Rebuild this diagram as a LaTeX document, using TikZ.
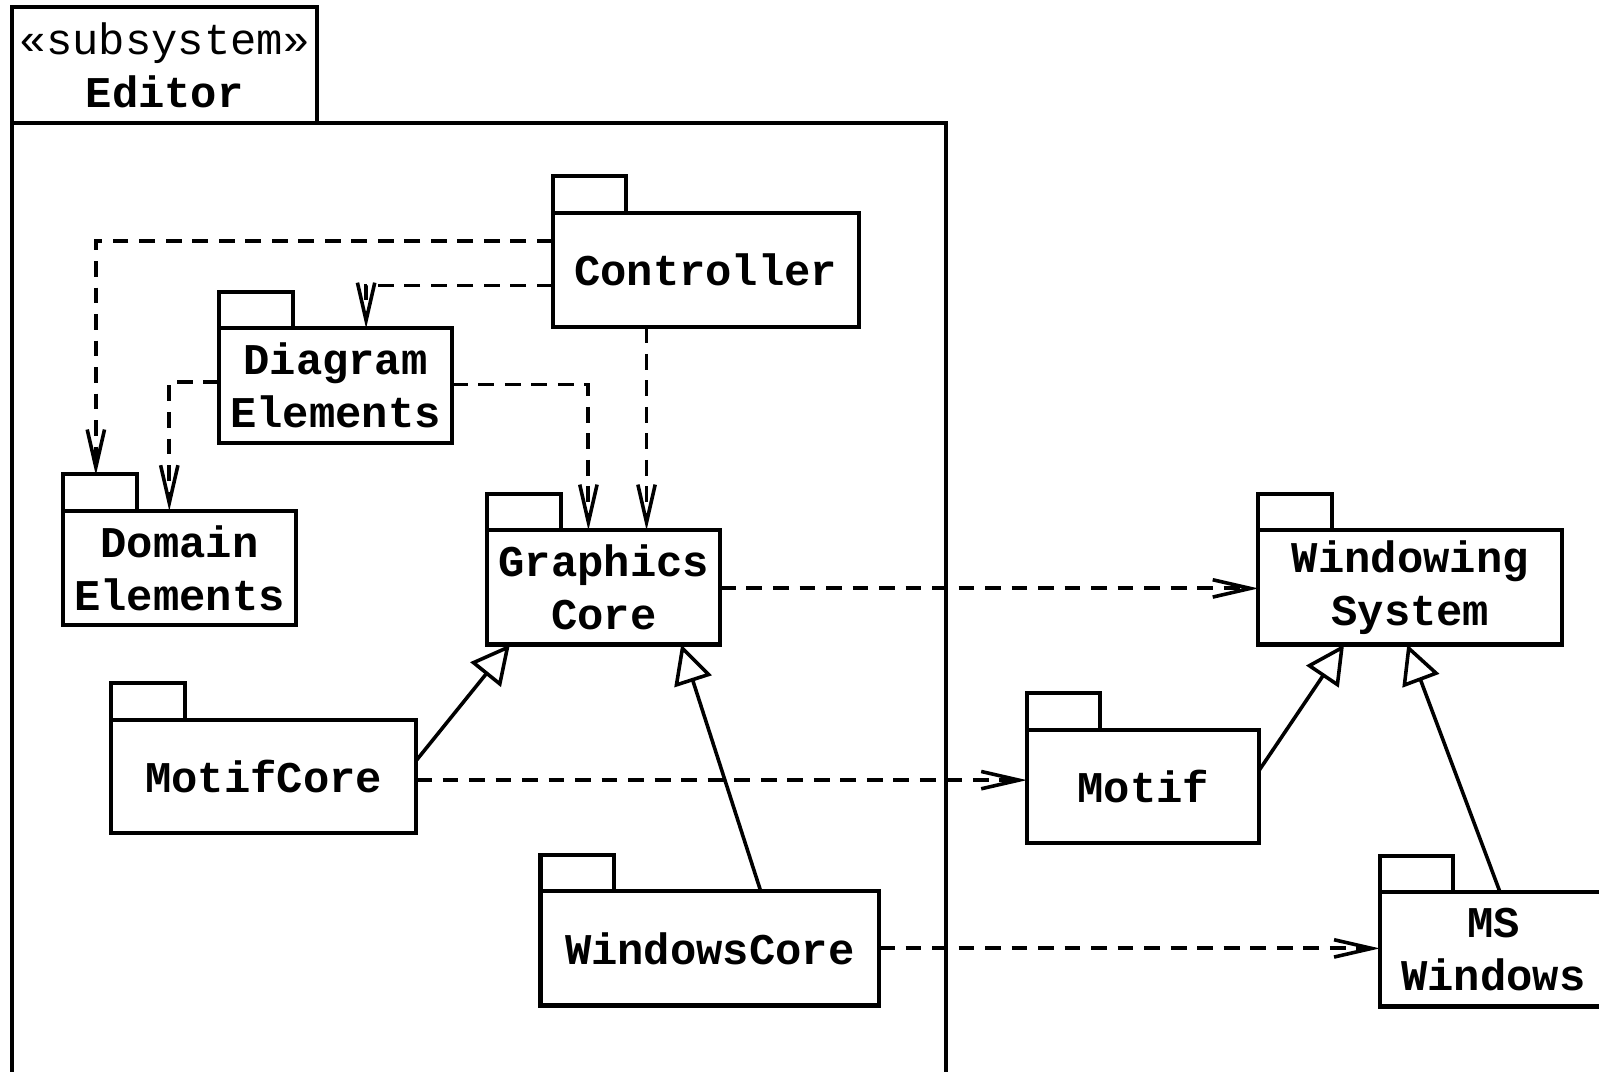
\documentclass[tikz,border=0pt]{standalone}
\usepackage{fontspec}
\newfontfamily\monofont{Liberation Mono}
\usetikzlibrary{arrows.meta,calc}

\tikzset{
  pkgline/.style={line width=4pt},
  pkgbody/.style={pkgline, draw, fill=white, inner sep=0pt, outer sep=0pt,
    align=center, font=\monofont\bfseries\fontsize{43}{52}\selectfont},
  dep/.style={line width=3.8pt, dash pattern=on 15.5pt off 10.5pt,
    -{Straight Barb[length=37pt,width=17pt,line width=3.5pt]}},
  gen/.style={line width=3.5pt,
    -{Triangle[open,length=38pt,width=38pt,line width=3.5pt]}},
}

% package symbol: body node named #1 spanning (#2,#3)-(#4,#5), plus its tab
\newcommand\pkgbox[6]{%
  \node[pkgbody, minimum width={(#4-#2)*1pt}, minimum height={(#5-#3)*1pt}]
    (#1) at ({(#2+#4)/2},{(#3+#5)/2}) {#6};
  \draw[pkgline] (#1.north west) rectangle ++(72,-36);
}

\begin{document}
\begin{tikzpicture}[x=1pt,y=-1pt]
  \clip (0,0) rectangle (1568,1051);

  % subsystem frame with its name tab
  \node[pkgline, draw, inner sep=0pt, outer sep=0pt,
        minimum width=916pt, minimum height=980pt] (editor) at (470,611) {};
  \node[pkgline, draw, inner sep=0pt, outer sep=0pt, align=center,
        minimum width=299pt, minimum height=114pt,
        font=\monofont\fontsize{43}{52}\selectfont] (editortab) at (161.5,64)
        {«subsystem»\\\bfseries Editor};

  % packages inside the subsystem
  \pkgbox{ctrl}{542}{209}{842}{321}{Controller}
  \pkgbox{diag}{215}{322}{443}{434}{Diagram\\Elements}
  \pkgbox{dom}{62}{501}{290}{613}{Domain\\Elements}
  \pkgbox{gc}{478}{520}{706}{632}{Graphics\\Core}
  \pkgbox{mcore}{109}{706}{408}{817}{MotifCore}
  \pkgbox{wcore}{530}{874}{862}{986}{WindowsCore}

  % packages outside
  \pkgbox{ws}{1234}{520}{1532}{632}{Windowing\\System}
  \pkgbox{motif}{1007}{716}{1235}{827}{Motif}
  \pkgbox{msw}{1353}{875}{1576}{987}{MS\\Windows}

  % dependencies
  \draw[dep] ($(ctrl.north west)+(0,27)$) -| ($(dom.north west)+(32,-35)$);
  \draw[dep] ($(ctrl.north west)+(0,71)$) -| ($(diag.north west)+(144,0)$);
  \draw[dep] ($(diag.north west)+(0,53)$) -| ($(dom.north west)+(104,0)$);
  \draw[dep] ($(diag.north east)+(0,55)$) -| ($(gc.north west)+(99,0)$);
  \draw[dep] ($(ctrl.south west)+(92,0)$) -- ($(gc.north west)+(156,0)$);
  \draw[dep] ($(gc.north east)+(0,57)$) -- ($(ws.north west)+(0,57)$);
  \draw[dep] ($(mcore.north east)+(0,59)$) -- ($(motif.north west)+(0,49)$);
  \draw[dep] ($(wcore.north east)+(0,56)$) -- ($(msw.north west)+(0,55)$);

  % generalizations
  \draw[gen] ($(mcore.north east)+(0,40)$) -- ($(gc.south west)+(22,0)$);
  \draw[gen] ($(wcore.north west)+(216,0)$) -- ($(gc.south west)+(190,0)$);
  \draw[gen] ($(motif.north east)+(0,39)$) -- ($(ws.south west)+(84,0)$);
  \draw[gen] ($(msw.north west)+(118,0)$) -- ($(ws.south west)+(146,0)$);
\end{tikzpicture}
\end{document}
